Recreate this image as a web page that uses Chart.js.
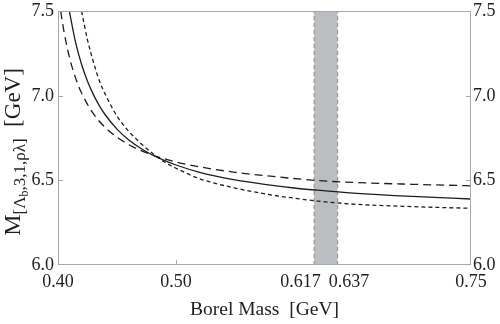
<!DOCTYPE html>
<html>
<head>
<meta charset="utf-8">
<style>
  html, body { margin: 0; padding: 0; background: #fff; }
</style>
<script src="https://cdn.jsdelivr.net/npm/chart.js@4/dist/chart.umd.min.js"></script>
</head>
<body>
<canvas id="borel-chart" width="500" height="324"></canvas>
<script>
// --- data ---
const xTicks = [0.40, 0.50, 0.617, 0.637, 0.75];
// the two band labels are nudged apart with spaces, as in the original
const xTickLabels = ['0.40', '0.50', '0.617\u2003\u2002', '\u2003\u20050.637', '0.75'];
const yTicks = [6.0, 6.5, 7.0, 7.5];
const bandRange = [0.617, 0.637];

const solidX = [0.4096, 0.415, 0.42, 0.425, 0.43, 0.435, 0.44, 0.45, 0.46, 0.47, 0.48, 0.49, 0.50, 0.52, 0.55, 0.58, 0.60, 0.62, 0.65, 0.70, 0.75];
const solidY = [7.50, 7.313, 7.185, 7.086, 7.007, 6.942, 6.888, 6.803, 6.739, 6.690, 6.650, 6.618, 6.591, 6.548, 6.503, 6.472, 6.455, 6.442, 6.425, 6.405, 6.39];

const longDashX = [0.4023, 0.405, 0.41, 0.415, 0.42, 0.43, 0.44, 0.45, 0.46, 0.47, 0.48, 0.49, 0.50, 0.52, 0.55, 0.58, 0.62, 0.65, 0.70, 0.75];
const longDashY = [7.50, 7.382, 7.219, 7.103, 7.016, 6.894, 6.813, 6.755, 6.711, 6.677, 6.650, 6.628, 6.609, 6.580, 6.548, 6.525, 6.499, 6.488, 6.477, 6.468];

const shortDashX = [0.420, 0.425, 0.43, 0.435, 0.44, 0.45, 0.46, 0.47, 0.48, 0.49, 0.50, 0.52, 0.55, 0.58, 0.60, 0.62, 0.65, 0.70, 0.75];
const shortDashY = [7.50, 7.33, 7.20, 7.09, 7.01, 6.88, 6.79, 6.72, 6.66, 6.61, 6.572, 6.51, 6.455, 6.415, 6.395, 6.378, 6.36, 6.345, 6.335];

const yMin = 6.0, yMax = 7.5;

// pair up x/y arrays for Chart.js
const toPoints = (xs, ys) => xs.map((x, i) => ({ x: x, y: ys[i] }));

const SERIF = "'Liberation Serif', 'DejaVu Serif', serif";
const INK = '#1e1e1e';
const FRAME = '#a8a8a8';

// Frame, inward tick marks and the y title with subscripts
const framePlugin = {
    id: 'frame',
    afterDatasetsDraw(chart) {
        const { ctx, chartArea: a, scales } = chart;
        ctx.save();
        ctx.strokeStyle = FRAME;
        ctx.lineWidth = 1;
        ctx.strokeRect(Math.round(a.left) + 0.5, Math.round(a.top) + 0.5,
            Math.round(a.right - a.left) - 1, Math.round(a.bottom - a.top) - 1);

        ctx.beginPath();
        yTicks.slice(1, -1).forEach(v => {
            const py = Math.round(scales.y.getPixelForValue(v)) + 0.5;
            ctx.moveTo(a.left, py); ctx.lineTo(a.left + 5, py);
            ctx.moveTo(a.right, py); ctx.lineTo(a.right - 5, py);
        });
        xTicks.filter(v => v > xTicks[0] && v < bandRange[0]).forEach(v => {
            const px = Math.round(scales.x.getPixelForValue(v)) + 0.5;
            ctx.moveTo(px, a.bottom); ctx.lineTo(px, a.bottom - 5);
        });
        ctx.stroke();
        ctx.restore();
    },
    afterDraw(chart) {
        const ctx = chart.ctx;
        const parts = [
            { text: 'M', size: 24, dy: 0 },
            { text: '[\u039B', size: 17, dy: 5 },
            { text: 'b', size: 12, dy: 8 },
            { text: ',3,1,\u03C1\u03BB]', size: 17, dy: 5 },
            { text: '  [GeV]', size: 23, dy: 0 }
        ];
        ctx.save();
        ctx.fillStyle = INK;
        ctx.textBaseline = 'alphabetic';
        ctx.translate(20, 152);
        ctx.rotate(-Math.PI / 2);
        let total = 0;
        parts.forEach(p => {
            ctx.font = p.size + 'px ' + SERIF;
            p.w = ctx.measureText(p.text).width;
            total += p.w;
        });
        let x = -total / 2;
        parts.forEach(p => {
            ctx.font = p.size + 'px ' + SERIF;
            ctx.fillText(p.text, x, p.dy);
            x += p.w;
        });
        ctx.restore();
    }
};

const curveStyle = { borderColor: INK, borderWidth: 1.3, pointRadius: 0, fill: false, cubicInterpolationMode: 'monotone' };

new Chart(document.getElementById('borel-chart'), {
    type: 'line',
    data: {
        datasets: [
            { ...curveStyle, data: toPoints(solidX, solidY), order: 1 },
            { ...curveStyle, data: toPoints(longDashX, longDashY), borderDash: [8, 5], order: 2 },
            { ...curveStyle, data: toPoints(shortDashX, shortDashY), borderDash: [4, 3], order: 3 },
            // shaded Borel window
            {
                data: [{ x: bandRange[0], y: yMax }, { x: bandRange[1], y: yMax }],
                fill: 'start', backgroundColor: '#bcbdc1', borderWidth: 0, pointRadius: 0, order: 20
            },
            {
                data: [{ x: bandRange[0], y: yMin }, { x: bandRange[0], y: yMax }],
                borderColor: '#8a8a8a', borderWidth: 1, borderDash: [4, 3], pointRadius: 0, order: 10
            },
            {
                data: [{ x: bandRange[1], y: yMin }, { x: bandRange[1], y: yMax }],
                borderColor: '#8a8a8a', borderWidth: 1, borderDash: [4, 3], pointRadius: 0, order: 10
            }
        ]
    },
    plugins: [framePlugin],
    options: {
        responsive: false,
        animation: false,
        layout: { padding: { top: 8, left: 0, right: 0, bottom: 0 } },
        plugins: { legend: { display: false }, tooltip: { enabled: false } },
        scales: {
            x: {
                type: 'linear', position: 'bottom', min: 0.40, max: 0.75,
                afterBuildTicks: s => { s.ticks = xTicks.map(v => ({ value: v })); },
                afterFit: s => { s.height = 59; },
                grid: { display: false, drawTicks: false }, border: { display: false },
                ticks: {
                    autoSkip: false, maxRotation: 0, minRotation: 0, padding: 6,
                    color: INK, font: { family: SERIF, size: 18 },
                    callback: (v, i) => xTickLabels[i]
                },
                title: {
                    display: true, text: 'Borel Mass  [GeV]', color: INK,
                    font: { family: SERIF, size: 19.5 }, padding: { top: 2, bottom: 2 }
                }
            },
            y: {
                type: 'linear', position: 'left', min: yMin, max: yMax,
                afterBuildTicks: s => { s.ticks = yTicks.map(v => ({ value: v })); },
                afterFit: s => { s.width = 58; },
                grid: { display: false, drawTicks: false }, border: { display: false },
                ticks: {
                    padding: 4, color: INK, font: { family: SERIF, size: 18, lineHeight: 0.8 },
                    callback: v => v.toFixed(1)
                }
            },
            y2: {
                type: 'linear', position: 'right', min: yMin, max: yMax,
                afterBuildTicks: s => { s.ticks = yTicks.map(v => ({ value: v })); },
                afterFit: s => { s.width = 29; },
                grid: { display: false, drawTicks: false }, border: { display: false },
                ticks: {
                    padding: 2, color: INK, font: { family: SERIF, size: 18, lineHeight: 0.8 },
                    callback: v => v.toFixed(1)
                }
            }
        }
    }
});
</script>
</body>
</html>
